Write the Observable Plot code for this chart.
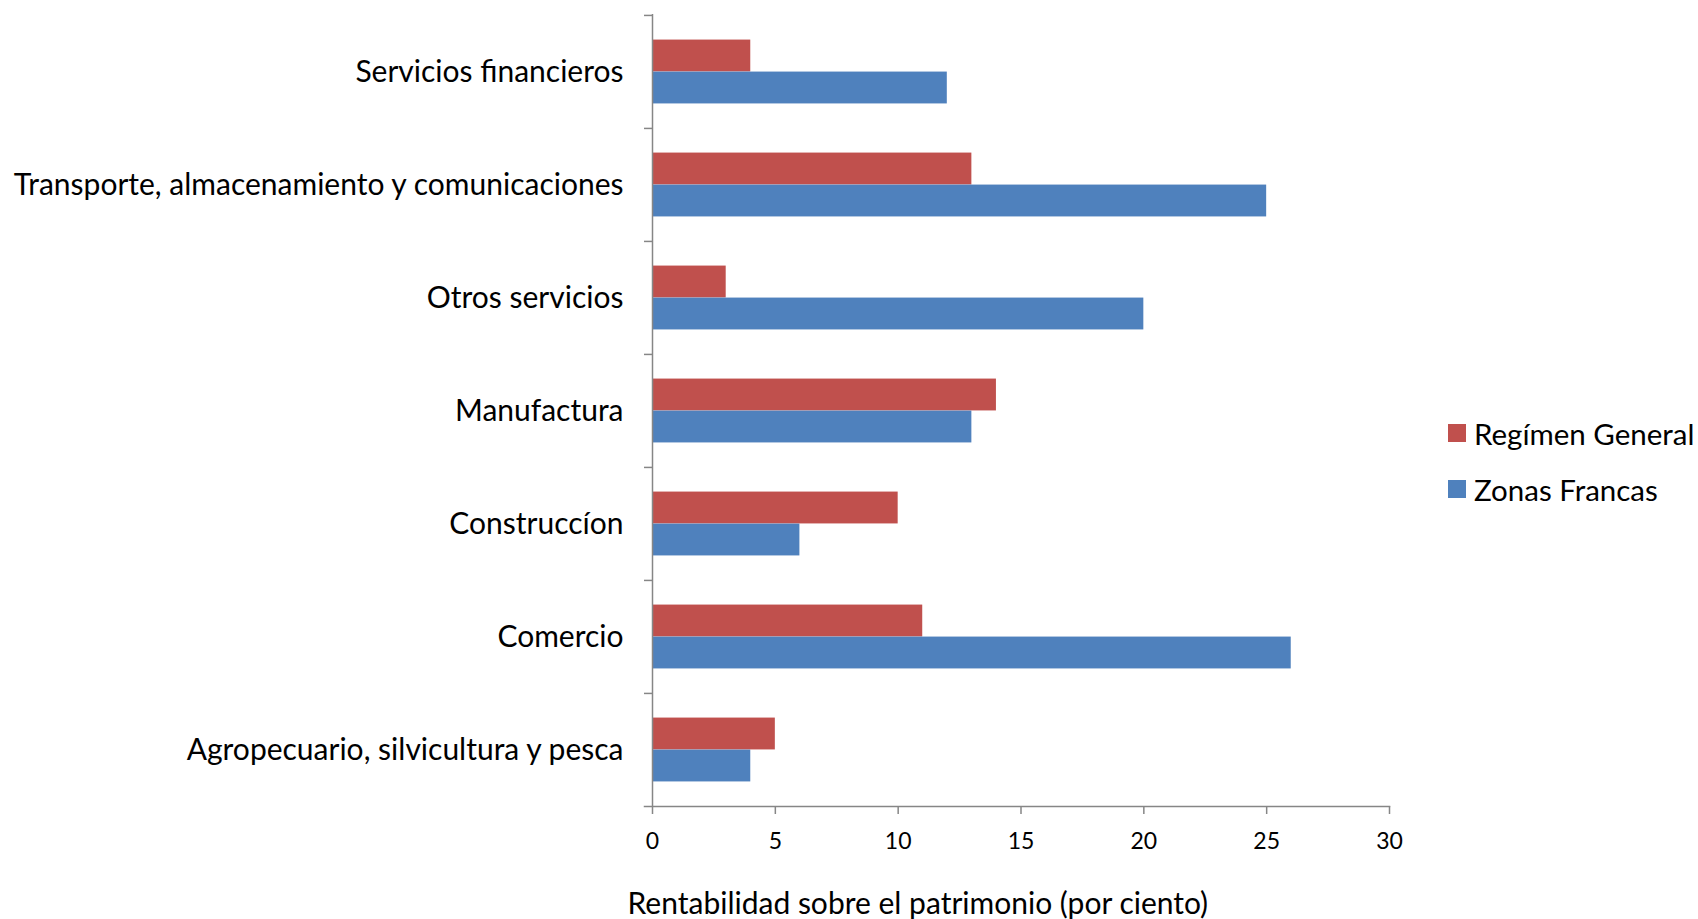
<!DOCTYPE html>
<html>
<head>
<meta charset="utf-8">
<script src="https://cdn.jsdelivr.net/npm/d3@7"></script>
<script src="https://cdn.jsdelivr.net/npm/@observablehq/plot@0.6"></script>
<style>
  html, body { margin: 0; padding: 0; background: #fff; }
  #wrap { position: relative; width: 1698px; height: 919px; font-family: Lato, "Open Sans", sans-serif; }
  .legend { position: absolute; left: 1448px; top: 416px; font-size: 29.5px; color: #000; }
  .legend .item { display: flex; align-items: center; height: 34px; margin-bottom: 22px; white-space: nowrap; }
  .legend .sw { width: 18px; height: 18px; margin-right: 8px; flex: none; }
</style>
</head>
<body>
<div id="wrap"></div>
<script>
const categories = [
  "Servicios financieros",
  "Transporte, almacenamiento y comunicaciones",
  "Otros servicios",
  "Manufactura",
  "Construccíon",
  "Comercio",
  "Agropecuario, silvicultura y pesca"
];
const series = ["Regímen General", "Zonas Francas"];
const regimenGeneral = [4, 13, 3, 14, 10, 11, 5];
const zonasFrancas = [12, 25, 20, 13, 6, 26, 4];
const xTicks = [0, 5, 10, 15, 20, 25, 30];
const colors = ["#C0504D", "#4F81BD"];
const xTitle = "Rentabilidad sobre el patrimonio (por ciento)";

const rgData = categories.map((c, i) => ({category: c, series: series[0], value: regimenGeneral[i]}));
const zfData = categories.map((c, i) => ({category: c, series: series[1], value: zonasFrancas[i]}));

const W = 1698, H = 919;
const mTop = 14, mBottom = 113, mLeft = 652, mRight = 309;
const step = (H - mTop - mBottom) / categories.length;
const barH = 32;
const gap = (step - 2 * barH) / 2;
const axisColor = "#868686";
const fontFam = "Lato, 'Open Sans', sans-serif";

const chart = Plot.plot({
  width: W,
  height: H,
  marginTop: mTop,
  marginBottom: mBottom,
  marginLeft: mLeft,
  marginRight: mRight,
  style: {fontFamily: fontFam, background: "white", color: "#000"},
  x: {domain: [0, 30], axis: null, label: null},
  y: {domain: categories, padding: 0, axis: null, label: null},
  color: {domain: series, range: colors},
  marks: [
    Plot.barX(rgData, {y: "category", x: "value", fill: "series", insetTop: gap, insetBottom: step - gap - barH}),
    Plot.barX(zfData, {y: "category", x: "value", fill: "series", insetTop: gap + barH, insetBottom: gap}),
    Plot.ruleX([0], {stroke: axisColor, strokeWidth: 1.5}),
    Plot.frame({anchor: "bottom", stroke: axisColor, strokeWidth: 1.5, insetLeft: -8}),
    Plot.axisY({tickSize: 8, tickFormat: () => "", stroke: axisColor, strokeWidth: 1.5, dy: -step / 2, label: null}),
    Plot.axisY({tickSize: 0, tickPadding: 29, fontSize: 30, fill: "#000", label: null}),
    Plot.axisX({ticks: xTicks, tickSize: 8, tickPadding: 18, fontSize: 23, stroke: axisColor, strokeWidth: 1.5, fill: "#000", label: null}),
    Plot.text([xTitle], {frameAnchor: "bottom", x: () => 10.8, dy: 98, text: d => d, fontSize: 30, fill: "#000", lineAnchor: "middle"})
  ]
});

const wrap = document.getElementById("wrap");
wrap.appendChild(chart);

const legend = document.createElement("div");
legend.className = "legend";
series.forEach((s, i) => {
  const item = document.createElement("div");
  item.className = "item";
  const sw = document.createElement("span");
  sw.className = "sw";
  sw.style.background = colors[i];
  const label = document.createElement("span");
  label.textContent = s;
  item.appendChild(sw);
  item.appendChild(label);
  legend.appendChild(item);
});
wrap.appendChild(legend);
</script>
</body>
</html>
